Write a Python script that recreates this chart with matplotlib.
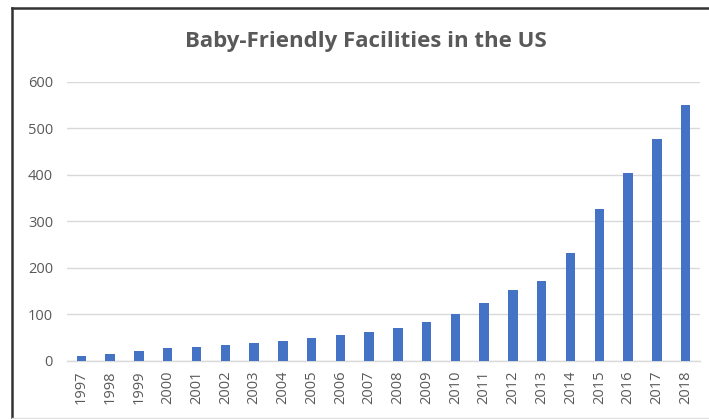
import matplotlib
matplotlib.use('Agg')
import matplotlib.pyplot as plt
from matplotlib.lines import Line2D

# Baby-Friendly designated facilities per year
years = ['1997', '1998', '1999', '2000', '2001', '2002', '2003', '2004',
         '2005', '2006', '2007', '2008', '2009', '2010', '2011', '2012',
         '2013', '2014', '2015', '2016', '2017', '2018']
facilities = [11, 14, 20, 27, 30, 33, 39, 42, 49, 55, 61, 71, 83, 101,
              125, 153, 171, 231, 326, 403, 476, 549]
y_ticks = [0, 100, 200, 300, 400, 500, 600]

BAR_COLOR = '#4472C4'
TEXT_COLOR = '#595959'
GRID_COLOR = '#D9D9D9'

W, H, DPI = 709, 419, 100
plt.rcParams['font.family'] = ['Open Sans', 'DejaVu Sans']

fig = plt.figure(figsize=(W / DPI, H / DPI), dpi=DPI)
fig.patch.set_facecolor('white')

# axes box in pixel coordinates: x 67..700, y 81.7..360.7 (from top)
left, right = 67 / W, 700 / W
top, bottom = 1 - 81.7 / H, 1 - 360.7 / H
ax = fig.add_axes([left, bottom, right - left, top - bottom])

x = range(len(years))
ax.bar(x, facilities, width=0.33, color=BAR_COLOR, zorder=3)

ax.set_xlim(-0.5, len(years) - 0.5)
ax.set_ylim(0, 600)
ax.set_yticks(y_ticks)
ax.set_xticks(list(x))
ax.set_xticklabels(years, rotation=90)
ax.yaxis.grid(True, color=GRID_COLOR, linewidth=1.0, zorder=0)
ax.set_axisbelow(True)

for side in ['top', 'right', 'left']:
    ax.spines[side].set_visible(False)
ax.spines['bottom'].set_color(GRID_COLOR)
ax.spines['bottom'].set_linewidth(1.0)

ax.tick_params(axis='both', length=0, colors=TEXT_COLOR, labelsize=10.5)
ax.tick_params(axis='y', pad=10)
ax.tick_params(axis='x', pad=7)

fig.text(366 / W, 1 - 42 / H, 'Baby-Friendly Facilities in the US',
         ha='center', va='center', fontsize=16, fontweight='bold', color=TEXT_COLOR)

# frame around the chart area (left and top edges)
fig.add_artist(Line2D([11.5 / W, 11.5 / W], [0, 1 - 8 / H], color='#333333',
                      linewidth=1.8, transform=fig.transFigure))
fig.add_artist(Line2D([11.5 / W, 1], [1 - 8 / H, 1 - 8 / H], color='#333333',
                      linewidth=1.8, transform=fig.transFigure))
fig.add_artist(Line2D([11.5 / W, 1], [0.8 / H, 0.8 / H], color='#E0E0E0',
                      linewidth=1.0, transform=fig.transFigure))

fig.savefig('out.png', dpi=DPI, facecolor='white')
